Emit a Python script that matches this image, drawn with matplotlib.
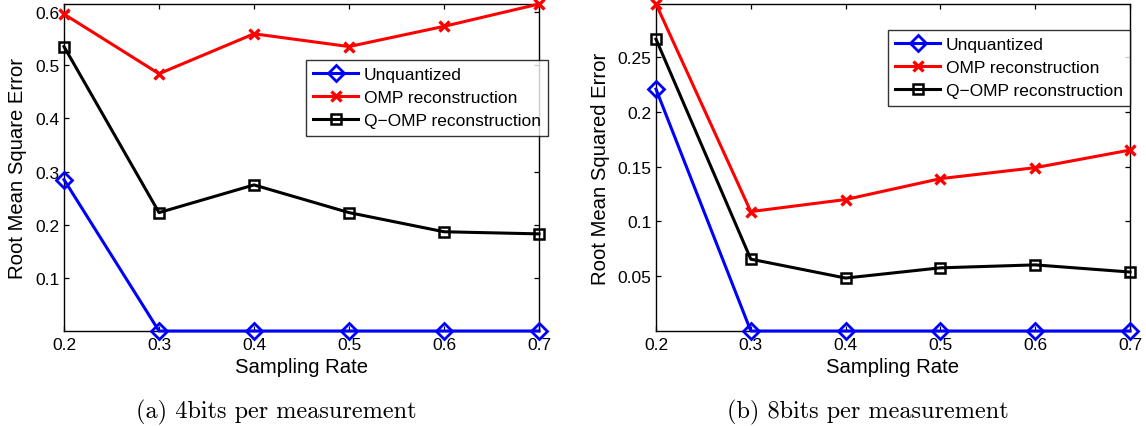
import matplotlib
matplotlib.use("Agg")
import matplotlib.pyplot as plt

rates = [0.2, 0.3, 0.4, 0.5, 0.6, 0.7]
xtick_labels = ["0.2", "0.3", "0.4", "0.5", "0.6", "0.7"]

# (a) 4 bits per measurement
unq_4 = [0.285, 0.0005, 0.0005, 0.0005, 0.0005, 0.0005]
omp_4 = [0.596, 0.484, 0.559, 0.535, 0.573, 0.615]
qomp_4 = [0.535, 0.223, 0.275, 0.223, 0.187, 0.183]
yticks_4 = [0.1, 0.2, 0.3, 0.4, 0.5, 0.6]

# (b) 8 bits per measurement
unq_8 = [0.2205, 0.0003, 0.0003, 0.0003, 0.0003, 0.0003]
omp_8 = [0.298, 0.109, 0.120, 0.139, 0.149, 0.165]
qomp_8 = [0.266, 0.0657, 0.0485, 0.0578, 0.0605, 0.054]
yticks_8 = [0.05, 0.1, 0.15, 0.2, 0.25]

labels = ["Unquantized", "OMP reconstruction", "Q\u2212OMP reconstruction"]

plt.rcParams['font.family'] = ['Liberation Sans', 'DejaVu Sans']

fig = plt.figure(figsize=(11.46, 4.27), dpi=100)
W, H = 1146, 427

def make_axes(left, right, top, bottom):
    return fig.add_axes([left / W, 1 - bottom / H, (right - left) / W, (bottom - top) / H])

panels = [
    (make_axes(64, 539, 5, 332), unq_4, omp_4, qomp_4, yticks_4,
     "Root Mean Square Error", "(a) 4bits per measurement",
     (306, 61, 548, 134), 276, 17.5),
    (make_axes(656, 1130, 5, 332), unq_8, omp_8, qomp_8, yticks_8,
     "Root Mean Squared Error", "(b) 8bits per measurement",
     (888, 31, 1130, 104), 868, 600),
]

for ax, unq, omp, qomp, yt, ylab, cap, leg, capx, ylx in panels:
    ax.plot(rates, unq, color='#0000ff', lw=2.2, marker='D', ms=8.5,
            mfc='none', mec='#0000ff', mew=2, label=labels[0], clip_on=False, zorder=3)
    ax.plot(rates, omp, color='#ff0000', lw=2.2, marker='x', ms=7.5,
            mew=2.4, label=labels[1], clip_on=False, zorder=3)
    ax.plot(rates, qomp, color='black', lw=2.2, marker='s', ms=7.5,
            mfc='none', mew=1.8, label=labels[2], clip_on=False, zorder=3)
    lo = min(unq)
    hi = max(omp)
    ax.set_xlim(0.2, 0.7)
    ax.set_ylim(lo, hi)
    ax.set_xticks(rates)
    ax.set_xticklabels(xtick_labels)
    ax.set_yticks(yt)
    ax.set_yticklabels([f"{v:g}" for v in yt])
    ax.tick_params(direction='in', length=3.6, width=0.9, top=True, right=True,
                   labelsize=12.5)
    ax.tick_params(axis='y', pad=3.5)
    ax.tick_params(axis='x', pad=4.5)
    for s in ax.spines.values():
        s.set_linewidth(1.0)
    ax.set_xlabel("Sampling Rate", fontsize=14.6)
    ax.set_ylabel(ylab, fontsize=14.6)
    ax.yaxis.label.set_va('center')
    ax.xaxis.label.set_va('center')
    pos = ax.get_position()
    ax.xaxis.set_label_coords((pos.x0 + pos.x1) / 2, 1 - 368 / H, transform=fig.transFigure)
    ax.yaxis.set_label_coords(ylx / W, (pos.y0 + pos.y1) / 2, transform=fig.transFigure)
    l, t, r, b = leg
    lg = ax.legend(loc='upper left',
                   bbox_to_anchor=(l / W, 1 - b / H, (r - l) / W, (b - t) / H),
                   bbox_transform=fig.transFigure, mode='expand',
                   fontsize=12.5, frameon=True, fancybox=False, edgecolor='black',
                   borderpad=0.42, handlelength=2.6, handletextpad=0.3,
                   labelspacing=0.45, borderaxespad=0)
    lg.get_frame().set_linewidth(1.0)
    lg.set_zorder(5)
    fig.text(capx / W, 1 - 412 / H, cap, ha='center', va='center',
             fontsize=17.5, family='cmr10')

fig.savefig("out.png", dpi=100)
